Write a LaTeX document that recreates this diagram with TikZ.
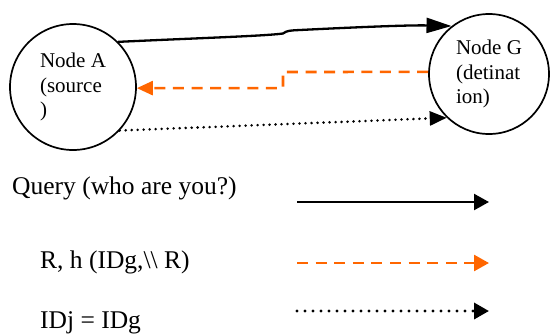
\documentclass[tikz,border=0pt]{standalone}
\usepackage{fontspec}
\setmainfont{Liberation Serif}
\usetikzlibrary{arrows.meta}
\definecolor{arrorange}{HTML}{FF6600}
\tikzset{
  station/.style={circle, draw, line width=1.7pt, minimum size=#1, inner sep=0pt, align=left,
    font=\fontsize{21}{24.5}\selectfont},
  querystyle/.style={line width=2.3pt, -{Triangle[length=15pt,width=16pt]}},
  replystyle/.style={line width=2.6pt, arrorange, dash pattern=on 11pt off 7.6pt, -{Triangle[length=16pt,width=14pt]}},
  checkstyle/.style={line width=3.4pt, line cap=round, dash pattern=on 0pt off 8pt, -{Triangle[length=15pt,width=16pt,line cap=butt]}},
  legendtext/.style={anchor=base west, inner sep=0pt, font=\fontsize{25.5}{30}\selectfont},
}
\begin{document}
\begin{tikzpicture}[x=1pt,y=-1pt]
\useasboundingbox (0,0) rectangle (550,333);
\node[station=126pt] (A) at (73,87) {Node A\\(source\\)};
\node[station=120pt] (G) at (489,74) {Node G\\(detinat\\ion)};
% top solid query arrow
\draw[line width=2.3pt, -{Triangle[length=25pt,width=15pt]}] (A.45.6) .. controls (200,38) and (265,36) .. (283,33.5)
  .. controls (287,30.5) and (290,30.5) .. (300,30) .. controls (360,27) and (410,25) .. (G.128.5);
% orange reply arrow
\draw[replystyle] (G.178) -- (283,72) |- (A.-1);
% dotted check arrow
\draw[line width=2.8pt, line cap=round, dash pattern=on 0pt off 6pt, -{Triangle[length=17pt,width=14pt,line cap=butt]}] (A.-43) -- (G.226.4);
% legend
\node[legendtext] (l1) at (12,194) {Query (who are you?)};
\node[legendtext] (l2) at (40,268) {R, h (IDg,\textbackslash\textbackslash\ R)};
\node[legendtext] (l3) at (40,328) {IDj = IDg};
\coordinate (q1) at (297,202); \coordinate (q2) at (489,202);
\coordinate (r1) at (297,263); \coordinate (r2) at (489,263);
\coordinate (c1) at (297,311); \coordinate (c2) at (489,311);
\draw[querystyle] (q1) -- (q2);
\draw[replystyle, -{Triangle[length=15pt,width=16pt]}] (r1) -- (r2);
\draw[checkstyle] (c1) -- (c2);
\end{tikzpicture}
\end{document}
